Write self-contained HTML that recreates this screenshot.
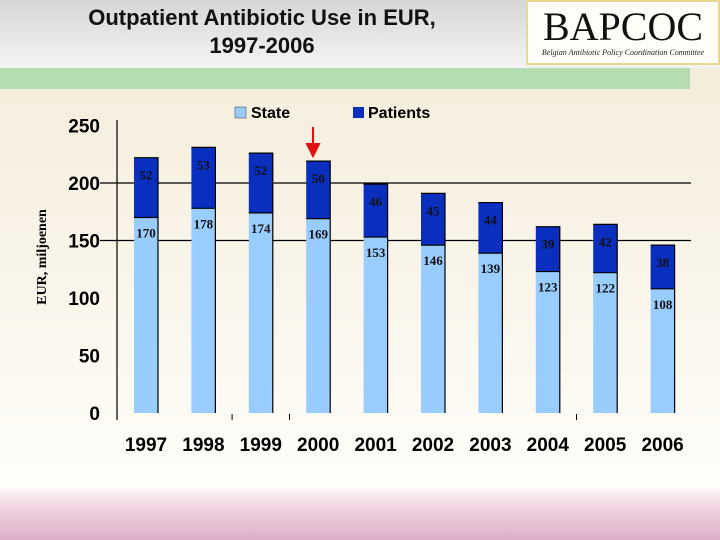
<!DOCTYPE html>
<html><head><meta charset="utf-8"><style>
body{margin:0;width:720px;height:540px;overflow:hidden;font-family:"Liberation Sans",sans-serif}
svg{display:block}
</style></head><body>
<svg id="c" width="720" height="540" xmlns="http://www.w3.org/2000/svg">
<defs>
<linearGradient id="bg" x1="0" y1="0" x2="0" y2="1">
<stop offset="0" stop-color="#f3ead6"/><stop offset="0.8" stop-color="#fdfbf5"/><stop offset="0.9" stop-color="#fffefb"/><stop offset="0.93" stop-color="#f2dce6"/><stop offset="1" stop-color="#dfaec8"/>
</linearGradient>
<linearGradient id="hd" x1="0" y1="0" x2="0" y2="1">
<stop offset="0" stop-color="#d6d6d6"/><stop offset="1" stop-color="#f4f4f4"/>
</linearGradient>
</defs>
<rect width="720" height="540" fill="url(#bg)"/>
<rect width="720" height="68" fill="url(#hd)"/>
<rect x="0" y="68" width="690" height="21" fill="#b5dcb0"/>
<text x="262" y="25" font-size="22" font-weight="bold" text-anchor="middle" fill="#111">Outpatient Antibiotic Use in EUR,</text>
<text x="262" y="53" font-size="22" font-weight="bold" text-anchor="middle" fill="#111">1997-2006</text>
<g>
<rect x="527" y="1" width="192" height="63" fill="#fffef8" stroke="#e8d890" stroke-width="2"/>
<text x="623" y="40" font-family="Liberation Serif,serif" font-size="40" text-anchor="middle" fill="#111">BAPCOC</text>
<text x="623" y="55" font-family="Liberation Serif,serif" font-style="italic" font-size="8" text-anchor="middle" fill="#222">Belgian Antibiotic Policy Coordination Committee</text>
</g>
<g>
<rect x="235" y="107" width="11" height="11" fill="#99ccff" stroke="#333" stroke-width="0.5"/>
<text x="251" y="118" font-size="16" font-weight="bold">State</text>
<rect x="353" y="107" width="11" height="11" fill="#0a2fbf"/>
<text x="368" y="118" font-size="16" font-weight="bold">Patients</text>
</g>
<text transform="translate(46,257) rotate(-90)" font-family="Liberation Serif,serif" font-weight="bold" font-size="14" text-anchor="middle">EUR, miljoenen</text>
<g id="plot"></g>
<path d="M313 127 L313 144 L307 144 L313 156 L319 144 L313 144" fill="#e01010" stroke="#e01010" stroke-width="2"/>
</svg>
<script>
const years=["1997","1998","1999","2000","2001","2002","2003","2004","2005","2006"];
const state=[170,178,174,169,153,146,139,123,122,108];
const patients=[52,53,52,50,46,45,44,39,42,38];
const yTicks=[0,50,100,150,200,250];
const gridVals=[150,200];
const NS="http://www.w3.org/2000/svg";
const g=document.getElementById('plot');
const y=v=>413-v*1.15;
const x=i=>146+i*57.4;
function mk(t,a){const e=document.createElementNS(NS,t);for(const k in a)e.setAttribute(k,a[k]);g.appendChild(e);return e;}
gridVals.forEach(v=>{const l=mk('line',{x1:100,x2:691,y1:y(v),y2:y(v),stroke:'#000','stroke-width':1.2});

});
const ax=mk('line',{x1:117,x2:117,y1:120,y2:420,stroke:'#000','stroke-width':1.2});


yTicks.forEach(v=>{const t=mk('text',{x:100,y:y(v)+7,'font-size':19,'font-weight':'bold','text-anchor':'end'});t.textContent=v;

});
[2,3,8].forEach(i=>{const tk=mk('line',{x1:x(i)-28.7,x2:x(i)-28.7,y1:414,y2:420,stroke:'#000'});

});
years.forEach((yr,i)=>{
 const cx=x(i),w=24,l=cx-12;
 const s=mk('rect',{x:l,y:y(state[i]),width:w,height:y(0)-y(state[i]),fill:'#99ccff'});
 
 
 const tot=state[i]+patients[i];
 const p=mk('rect',{x:l,y:y(tot),width:w,height:y(state[i])-y(tot),fill:'#0a2fbf'});
 
 
 const e=mk('path',{d:`M${l} ${y(tot)} H${l+w} V${y(0)} M${l} ${y(state[i])} H${l+w}`,stroke:'#000','stroke-width':1.2,fill:'none'});
 
 
 const pl=mk('text',{x:cx,y:y(tot)+22,'font-size':13,'font-weight':'bold','font-family':'Liberation Serif,serif','text-anchor':'middle',fill:'#111'});pl.textContent=patients[i];
 
 
 const sl=mk('text',{x:cx,y:y(state[i])+20,'font-size':13,'font-weight':'bold','font-family':'Liberation Serif,serif','text-anchor':'middle',fill:'#111'});sl.textContent=state[i];
 
 
 const xl=mk('text',{x:cx,y:451,'font-size':19,'font-weight':'bold','text-anchor':'middle'});xl.textContent=yr;
 
 
});
</script>
</body></html>
